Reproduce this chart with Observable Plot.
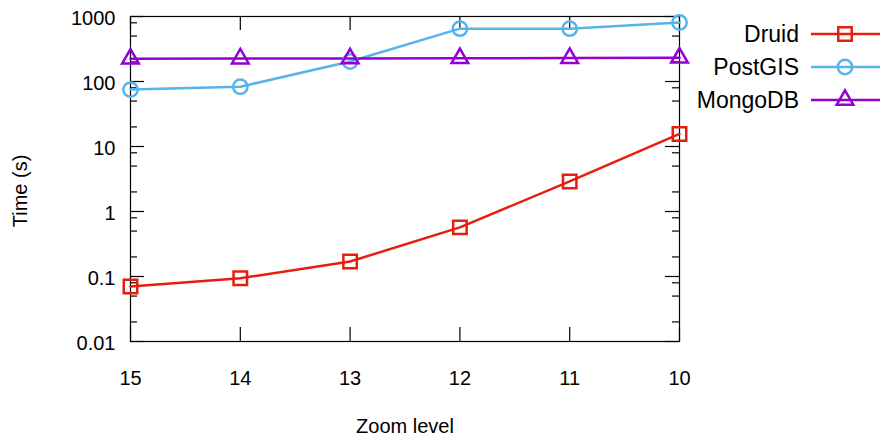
<!DOCTYPE html>
<html><head><meta charset="utf-8">
<script src="https://cdn.jsdelivr.net/npm/d3@7"></script>
<script src="https://cdn.jsdelivr.net/npm/@observablehq/plot@0.6"></script>
<style>
body{margin:0;background:#fff}
#chart{width:881px;height:436px}
</style>
</head><body><div id="chart"></div>
<script>
const zoomLevels = [15, 14, 13, 12, 11, 10];
const druid = [0.070, 0.094, 0.17, 0.57, 2.9, 15.6];
const postgis = [75, 83, 203, 650, 650, 810];
const mongodb = [224, 225, 226, 228, 229, 232];
const seriesNames = ["Druid", "PostGIS", "MongoDB"];
const seriesColors = ["#e51e10", "#56b4e9", "#9400d3"];
const seriesSymbols = ["square", "circle", "triangle"];
const symbolRadii = [7.6, 7.2, 6.2];
const yTickValues = [0.01, 0.1, 1, 10, 100, 1000];
const yTickLabels = ["0.01", "0.1", "1", "10", "100", "1000"];
const yMinorTicks = [0.02, 0.05, 0.08, 0.2, 0.5, 0.8, 2, 5, 8, 20, 50, 80, 200, 500, 800];
const xLabel = "Zoom level";
const yLabel = "Time (s)";

const seriesValues = [druid, postgis, mongodb];
const data = [];
seriesNames.forEach((name, i) => {
  zoomLevels.forEach((z, j) => data.push({series: name, zoom: z, time: seriesValues[i][j]}));
});

const font = "'Liberation Sans', Arial, Helvetica, sans-serif";
const W = 881, H = 436, mL = 130, mR = 202, mT = 16, mB = 95;
const frameW = W - mL - mR, frameH = H - mT - mB;
const major = 14, minor = 7;
const tk = {stroke: "black", strokeWidth: 1.2};

const marks = [
  // inward ticks (rules spanning the frame, inset down to the tick length)
  Plot.ruleX(zoomLevels, {x: d => d, insetTop: frameH - major, ...tk}),
  Plot.ruleX(zoomLevels, {x: d => d, insetBottom: frameH - major, ...tk}),
  Plot.ruleY(yTickValues, {y: d => d, insetRight: frameW - major, ...tk}),
  Plot.ruleY(yTickValues, {y: d => d, insetLeft: frameW - major, ...tk}),
  Plot.ruleY(yMinorTicks, {y: d => d, insetRight: frameW - minor, ...tk}),
  Plot.ruleY(yMinorTicks, {y: d => d, insetLeft: frameW - minor, ...tk}),
  // tick labels
  Plot.axisX(zoomLevels, {anchor: "bottom", tickSize: 0, tickPadding: 29, fontSize: 20, label: null, tickFormat: d => String(d)}),
  Plot.axisY(yTickValues, {anchor: "left", tickSize: 0, tickPadding: 15, fontSize: 20, dy: 2, label: null,
    tickFormat: d => yTickLabels[yTickValues.indexOf(d)]}),
  // axis titles
  Plot.text([xLabel], {frameAnchor: "bottom", lineAnchor: "top", dy: 77, fontSize: 20, fill: "black", text: d => d}),
  Plot.text([yLabel], {frameAnchor: "left", textAnchor: "middle", rotate: -90, lineAnchor: "middle", dx: -110, dy: 12, fontSize: 20, fill: "black", text: d => d}),
  Plot.frame({stroke: "black", strokeWidth: 1.2}),
  Plot.line(data, {x: "zoom", y: "time", z: "series", stroke: "series", strokeWidth: 2.5})
];
seriesNames.forEach((name, i) => {
  marks.push(Plot.dot(data.filter(d => d.series === name), {
    x: "zoom", y: "time", symbol: "series", stroke: "series", fill: "none", r: symbolRadii[i], strokeWidth: 2.5
  }));
});

const chart = Plot.plot({
  width: W, height: H,
  marginLeft: mL, marginRight: mR, marginTop: mT, marginBottom: mB,
  style: {fontFamily: font, fontSize: "20px", background: "white", color: "black", overflow: "visible"},
  x: {domain: [15, 10], label: null, axis: null},
  y: {type: "log", domain: [0.01, 1000], label: null, axis: null},
  color: {domain: seriesNames, range: seriesColors},
  symbol: {domain: seriesNames, range: seriesSymbols},
  marks
});

// legend (inside the svg, right side)
const svg = d3.select(chart);
const lg = svg.append("g").attr("font-family", font).attr("font-size", 23);
const legendTop = 34, legendStep = 33;
seriesNames.forEach((name, i) => {
  const y = legendTop + i * legendStep;
  lg.append("text").attr("x", 799).attr("y", y).attr("dy", "0.35em")
    .attr("text-anchor", "end").attr("fill", "black").text(name);
  lg.append("line").attr("x1", 811).attr("x2", 880).attr("y1", y).attr("y2", y)
    .attr("stroke", seriesColors[i]).attr("stroke-width", 2.5);
  const r = symbolRadii[i];
  const sym = {square: d3.symbolSquare, circle: d3.symbolCircle, triangle: d3.symbolTriangle}[seriesSymbols[i]];
  lg.append("path").attr("transform", `translate(845,${y})`)
    .attr("d", d3.symbol(sym, Math.PI * r * r)())
    .attr("fill", "none").attr("stroke", seriesColors[i]).attr("stroke-width", 2.5);
});

document.getElementById("chart").appendChild(chart);
</script>
</body></html>
